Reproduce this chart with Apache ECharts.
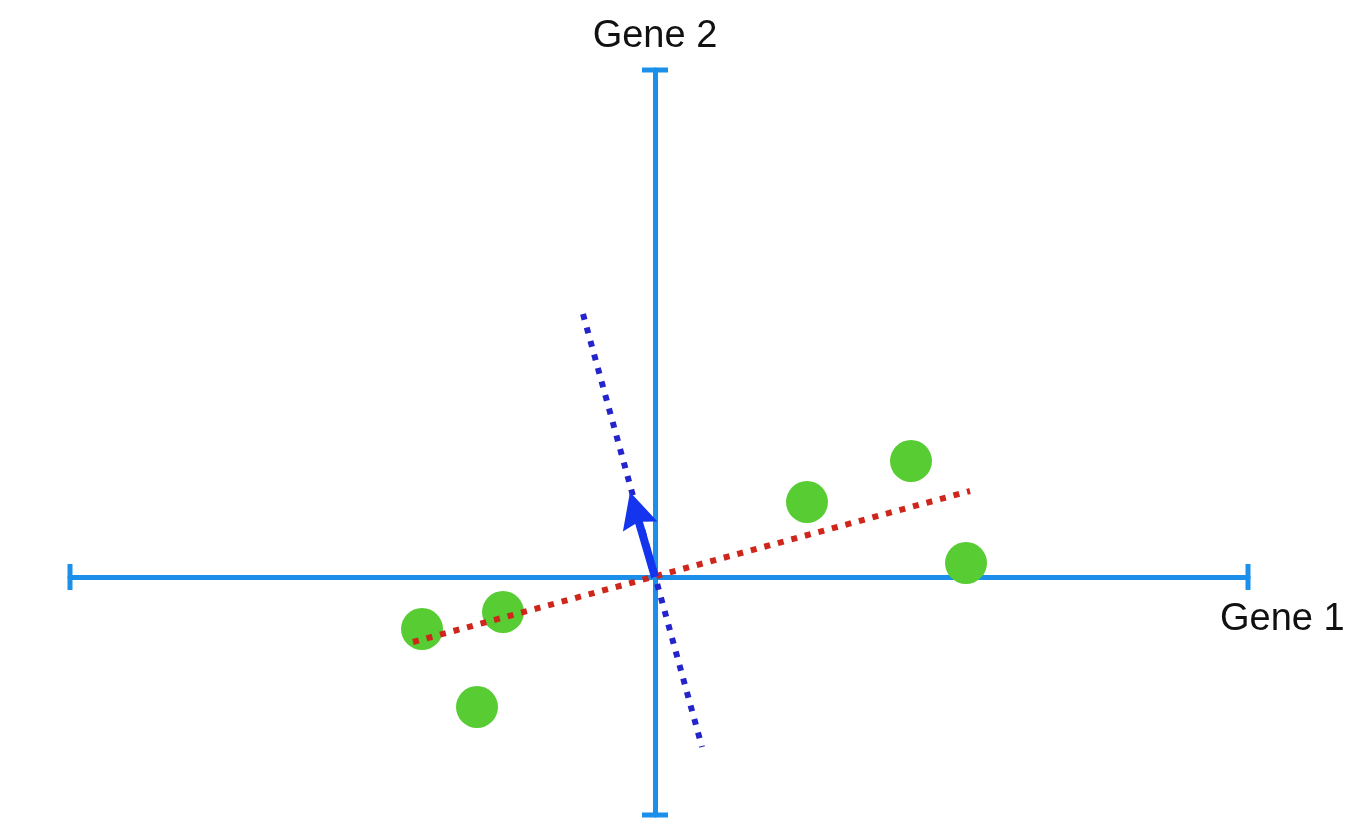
<!DOCTYPE html>
<html>
<head>
<meta charset="utf-8">
<script src="https://cdn.jsdelivr.net/npm/echarts@6/dist/echarts.min.js"></script>
<style>
html,body{margin:0;padding:0;background:#fff;}
#chart{width:1350px;height:832px;}
</style>
</head>
<body>
<div id="chart"></div>
<script>
// Data (units: 1 = 10 px on both axes)
const xRange = [-58.5, 59.3];
const yRange = [-23.8, 50.7];
const gene1 = [-23.3, -15.2, -17.8, 15.2, 25.6, 31.1];
const gene2 = [-5.2, -3.5, -13.0, 7.5, 11.6, 1.4];
const pc1Line = [[-24.2, -6.5], [31.5, 8.6]];
const pc2Line = [[-7.2, 26.3], [4.7, -17.0]];
const arrowVec = [[0, 0], [-2.5, 8.5]];
const axisNames = ['Gene 1', 'Gene 2'];

const points = gene1.map((v, i) => [v, gene2[i]]);
const axisColor = '#1b8fe9';

const chart = echarts.init(document.getElementById('chart'));
chart.setOption({
  backgroundColor: '#ffffff',
  animation: false,
  grid: { left: 70, right: 102, top: 70, bottom: 17, containLabel: false },
  xAxis: {
    type: 'value', min: xRange[0], max: xRange[1],
    name: axisNames[0], nameLocation: 'end', nameGap: -28,
    nameTextStyle: { fontFamily: 'Liberation Sans', fontSize: 38, color: '#111', align: 'left', verticalAlign: 'top', padding: [24, 0, 0, 0] },
    axisLine: { show: true, onZero: true, symbol: ['rect', 'rect'], symbolSize: [26, 5], lineStyle: { color: axisColor, width: 5 } },
    axisTick: { show: false }, axisLabel: { show: false }, splitLine: { show: false }
  },
  yAxis: {
    type: 'value', min: yRange[0], max: yRange[1],
    name: axisNames[1], nameLocation: 'end', nameGap: 14,
    nameTextStyle: { fontFamily: 'Liberation Sans', fontSize: 38, color: '#111', align: 'center' },
    axisLine: { show: true, onZero: true, symbol: ['rect', 'rect'], symbolSize: [26, 5], lineStyle: { color: axisColor, width: 5 } },
    axisTick: { show: false }, axisLabel: { show: false }, splitLine: { show: false }
  },
  series: [
    {
      type: 'scatter', data: points, symbolSize: 42, z: 3,
      itemStyle: { color: '#57cc33', opacity: 1 }
    },
    {
      type: 'line', data: pc1Line, showSymbol: false, symbol: 'none', z: 5,
      lineStyle: { color: '#cf261c', width: 6, type: [6, 8], cap: 'butt', opacity: 1 }
    },
    {
      type: 'line', data: pc2Line, showSymbol: false, symbol: 'none', z: 5,
      lineStyle: { color: '#2424cc', width: 6, type: [6, 8], cap: 'butt', opacity: 1 }
    },
    {
      type: 'custom', z: 6,
      data: [[arrowVec[0][0], arrowVec[0][1], arrowVec[1][0], arrowVec[1][1]]],
      renderItem: function (params, api) {
        const p0 = api.coord([api.value(0), api.value(1)]);
        const p1 = api.coord([api.value(2), api.value(3)]);
        const dx = p1[0] - p0[0], dy = p1[1] - p0[1];
        const len = Math.sqrt(dx * dx + dy * dy);
        const ux = dx / len, uy = dy / len;
        const nx = -uy, ny = ux;
        const headLen = 36, headHalf = 18, notch = 5;
        const bx = p1[0] - ux * headLen, by = p1[1] - uy * headLen;
        const sx = p1[0] - ux * (headLen - notch), sy = p1[1] - uy * (headLen - notch);
        return {
          type: 'group',
          children: [
            { type: 'line', shape: { x1: p0[0], y1: p0[1], x2: sx, y2: sy }, style: { stroke: '#1434ee', lineWidth: 8 } },
            { type: 'polygon', shape: { points: [
              [p1[0], p1[1]],
              [bx + nx * headHalf, by + ny * headHalf],
              [sx, sy],
              [bx - nx * headHalf, by - ny * headHalf]
            ] }, style: { fill: '#1434ee' } }
          ]
        };
      }
    }
  ]
});
</script>
</body>
</html>
